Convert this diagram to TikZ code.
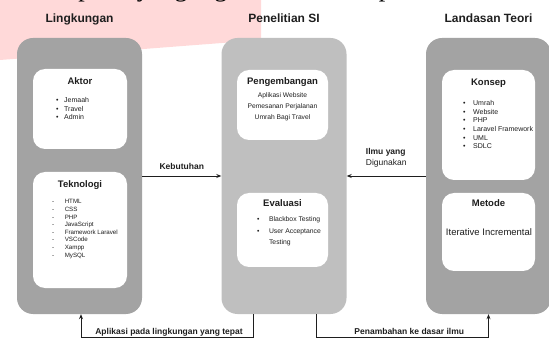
\documentclass[tikz,border=0pt]{standalone}
\usepackage{fontspec}
\setmainfont{Liberation Sans}
\newfontfamily\serifface{Liberation Serif}
\usetikzlibrary{arrows.meta, positioning}
\definecolor{boxdark}{HTML}{A3A3A3}
\definecolor{boxlight}{HTML}{BFBFBF}
\definecolor{pinkbg}{HTML}{FFD9D9}
\definecolor{inktext}{HTML}{1E1E1E}

\begin{document}
\begin{tikzpicture}[x=1pt, y=-1pt,
    bigbox/.style={rounded corners=16pt, minimum width=125pt, minimum height=276pt, inner sep=0pt},
    innerbox/.style={fill=white, rounded corners=12pt, inner sep=0pt},
    coltitle/.style={font=\fontsize{12}{14}\selectfont\bfseries, text=inktext, anchor=base},
    boxtitle/.style={font=\fontsize{9.5}{11}\selectfont\bfseries, text=inktext, anchor=base},
    itemtext/.style={font=\fontsize{7}{8.6}\selectfont, text=inktext, align=left, anchor=north west, inner sep=0pt},
    lbl/.style={font=\fontsize{8.5}{11}\selectfont\bfseries, text=inktext},
    arrowstyle/.style={-{Stealth[length=5pt, width=4pt]}, draw=inktext, line width=0.8pt},
]
    \useasboundingbox (0,0) rectangle (549,339);
    \clip (0,0) rectangle (549,339);

    % Cut-off line of the page above the figure
    \fill[pinkbg] (0,0) -- (261,0) -- (261,40) -- (0,60) -- cycle;
    \node[font=\serifface\fontsize{26}{28}\selectfont, anchor=base east, inner sep=0pt] (intro) at (522,-3)
        {konseptual yang digunakan dalam penelitian ini.};

    % Three columns
    \node[bigbox, fill=boxdark] (ling) at (79.5,176) {};
    \node[bigbox, fill=boxlight] (pen) at (284,176) {};
    \node[bigbox, fill=boxdark] (teori) at (488.5,176) {};
    \node[coltitle] (lingtitle) at ([yshift=15pt]ling.north) {Lingkungan};
    \node[coltitle] (pentitle) at ([yshift=15pt]pen.north) {Penelitian SI};
    \node[coltitle] (teorititle) at ([yshift=15pt]teori.north) {Landasan Teori};

    % Lingkungan
    \node[innerbox, minimum width=94pt, minimum height=80pt] (aktor) at (80,109) {};
    \node[boxtitle] (aktortitle) at ([yshift=-16pt]aktor.north) {Aktor};
    \node[itemtext] (aktorlist) at (56,97.5)
        {\textbullet\hspace{5.5pt}Jemaah\\ \textbullet\hspace{5.5pt}Travel\\ \textbullet\hspace{5.5pt}Admin};

    \node[innerbox, minimum width=94pt, minimum height=116pt] (tekno) at (80,230) {};
    \node[boxtitle] (teknotitle) at ([yshift=-16pt]tekno.north) {Teknologi};
    \node[itemtext, font=\fontsize{6.2}{7.6}\selectfont] (teknolist) at (52,199.5)
        {-\hspace{10.5pt}HTML\\ -\hspace{10.5pt}CSS\\ -\hspace{10.5pt}PHP\\ -\hspace{10.5pt}JavaScript\\
         -\hspace{10.5pt}Framework Laravel\\ -\hspace{10.5pt}VSCode\\ -\hspace{10.5pt}Xampp\\ -\hspace{10.5pt}MySQL};

    % Penelitian SI
    \node[innerbox, minimum width=91pt, minimum height=70pt] (kembang) at (282.5,105) {};
    \node[boxtitle] (kembangtitle) at ([yshift=-15pt]kembang.north) {Pengembangan};
    \node[itemtext, align=center, anchor=north, font=\fontsize{6.7}{11}\selectfont] (kembangtext) at (282.5,92.5)
        {Aplikasi Website\\ Pemesanan Perjalanan\\ Umrah Bagi Travel};

    \node[innerbox, minimum width=91pt, minimum height=74pt] (evaluasi) at (282.5,230) {};
    \node[boxtitle] (evaluasititle) at ([yshift=-14pt]evaluasi.north) {Evaluasi};
    \node[itemtext, font=\fontsize{6.8}{11.5}\selectfont] (evaluasilist) at (257,216.5)
        {\textbullet\hspace{9.5pt}Blackbox Testing\\ \textbullet\hspace{9.5pt}User Acceptance\\
         \hphantom{\textbullet\hspace{9.5pt}}Testing};

    % Landasan Teori
    \node[innerbox, minimum width=93pt, minimum height=110pt] (konsep) at (488.5,125) {};
    \node[boxtitle] (konseptitle) at ([yshift=-15.5pt]konsep.north) {Konsep};
    \node[itemtext] (konseplist) at (463,100.5)
        {\textbullet\hspace{7.5pt}Umrah\\ \textbullet\hspace{7.5pt}Website\\ \textbullet\hspace{7.5pt}PHP\\
         \textbullet\hspace{7.5pt}Laravel Framework\\ \textbullet\hspace{7.5pt}UML\\ \textbullet\hspace{7.5pt}SDLC};

    \node[innerbox, minimum width=93pt, minimum height=78pt] (metode) at (488.5,232) {};
    \node[boxtitle] (metodetitle) at ([yshift=-14pt]metode.north) {Metode};
    \node[font=\fontsize{9.5}{11}\selectfont, text=inktext] (metodetext) at (489,232) {Iterative Incremental};

    % Connectors
    \draw[arrowstyle] (ling.east) -- (pen.west)
        node[midway, above=3pt, lbl] {Kebutuhan};
    \draw[arrowstyle] (teori.west) -- (pen.east)
        node[midway, above=5pt, lbl, align=left] {Ilmu yang\\ \mdseries Digunakan};
    \draw[arrowstyle] ([xshift=-31pt]pen.south) -- ++(0,23) -| ([xshift=1.5pt]ling.south)
        node[pos=0.25, anchor=base, yshift=3pt, xshift=2pt, lbl] {Aplikasi pada lingkungan yang tepat};
    \draw[arrowstyle] ([xshift=32pt]pen.south) -- ++(0,23) -| (teori.south)
        node[pos=0.25, anchor=base, yshift=3pt, xshift=7pt, lbl] {Penambahan ke dasar ilmu};

\end{tikzpicture}
\end{document}
